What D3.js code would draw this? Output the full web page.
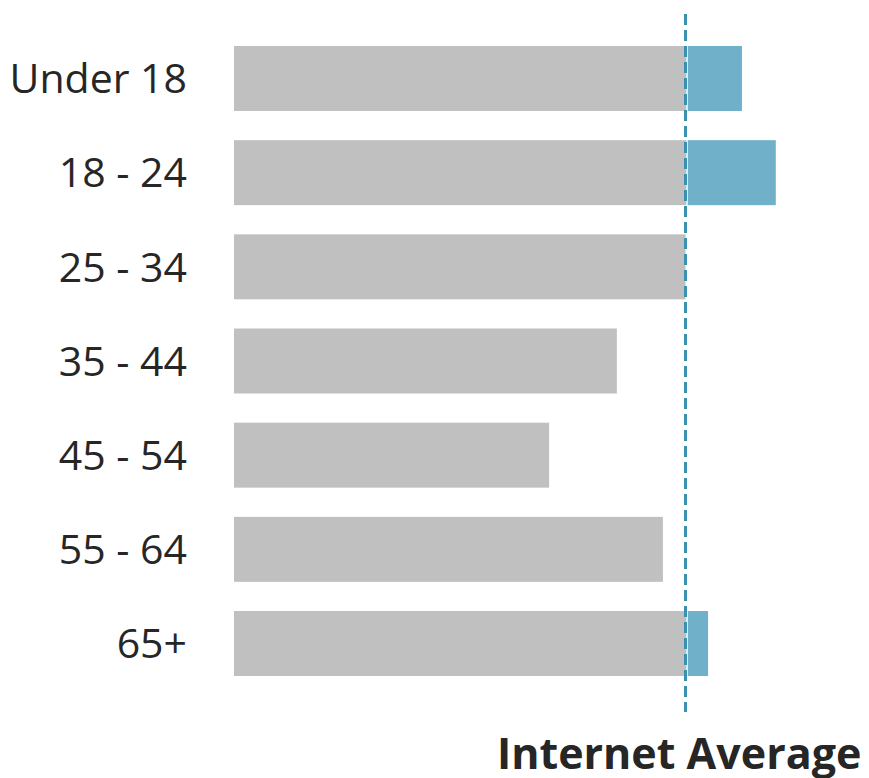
<!DOCTYPE html>
<html>
<head>
<meta charset="utf-8">
<script src="https://cdn.jsdelivr.net/npm/d3@7"></script>
<style>
  html, body { margin: 0; padding: 0; background: #fff; }
  svg { display: block; }
  .axis text { font-family: "Open Sans", sans-serif; fill: #262626; }
</style>
</head>
<body>
<svg id="chart" width="869" height="778"></svg>
<script>
// Audience index by age group (internet average = 100)
const ageGroups = ["Under 18", "18 - 24", "25 - 34", "35 - 44", "45 - 54", "55 - 64", "65+"];
const indexValues = [112.5, 120, 100, 84.8, 69.8, 95, 105];
const averageIndex = 100;
const averageLabel = "Internet Average";

const data = ageGroups.map((g, i) => ({ group: g, value: indexValues[i] }));

const svg = d3.select("#chart");

const x = d3.scaleLinear().domain([0, 100]).range([234, 685.5]);
const y = d3.scaleBand().domain(ageGroups).range([46, 676]).paddingInner(0.31).paddingOuter(0);

// grey part: up to the average
svg.append("g").selectAll("rect.base")
  .data(data).join("rect")
  .attr("class", "base")
  .attr("x", x(0))
  .attr("y", d => y(d.group))
  .attr("width", d => x(Math.min(d.value, averageIndex)) - x(0))
  .attr("height", y.bandwidth())
  .attr("fill", "#c0c0c0");

// blue part: above the average
svg.append("g").selectAll("rect.over")
  .data(data.filter(d => d.value > averageIndex)).join("rect")
  .attr("class", "over")
  .attr("x", x(averageIndex))
  .attr("y", d => y(d.group))
  .attr("width", d => x(d.value) - x(averageIndex))
  .attr("height", y.bandwidth())
  .attr("fill", "#70b1c9");

// average reference line
svg.append("line")
  .attr("x1", x(averageIndex) + 1.5).attr("x2", x(averageIndex) + 1.5)
  .attr("y1", 14).attr("y2", 712)
  .attr("stroke", "#ffffff").attr("stroke-width", 1.5);
svg.append("line")
  .attr("x1", x(averageIndex)).attr("x2", x(averageIndex))
  .attr("y1", 14).attr("y2", 712)
  .attr("stroke", "#3c91b2").attr("stroke-width", 3)
  .attr("stroke-dasharray", "11 5");

// category axis
const axis = svg.append("g")
  .attr("class", "axis")
  .attr("transform", `translate(${x(0)},0)`)
  .call(d3.axisLeft(y).tickSize(0).tickPadding(47));
axis.select(".domain").remove();
axis.selectAll("text")
  .attr("font-size", 41)
  .attr("dy", "0.36em");

svg.append("text")
  .attr("x", 497).attr("y", 769)
  .attr("font-family", "'Open Sans', sans-serif")
  .attr("font-weight", 700)
  .attr("font-size", 43)
  .attr("fill", "#262626")
  .text(averageLabel);
</script>
</body>
</html>
